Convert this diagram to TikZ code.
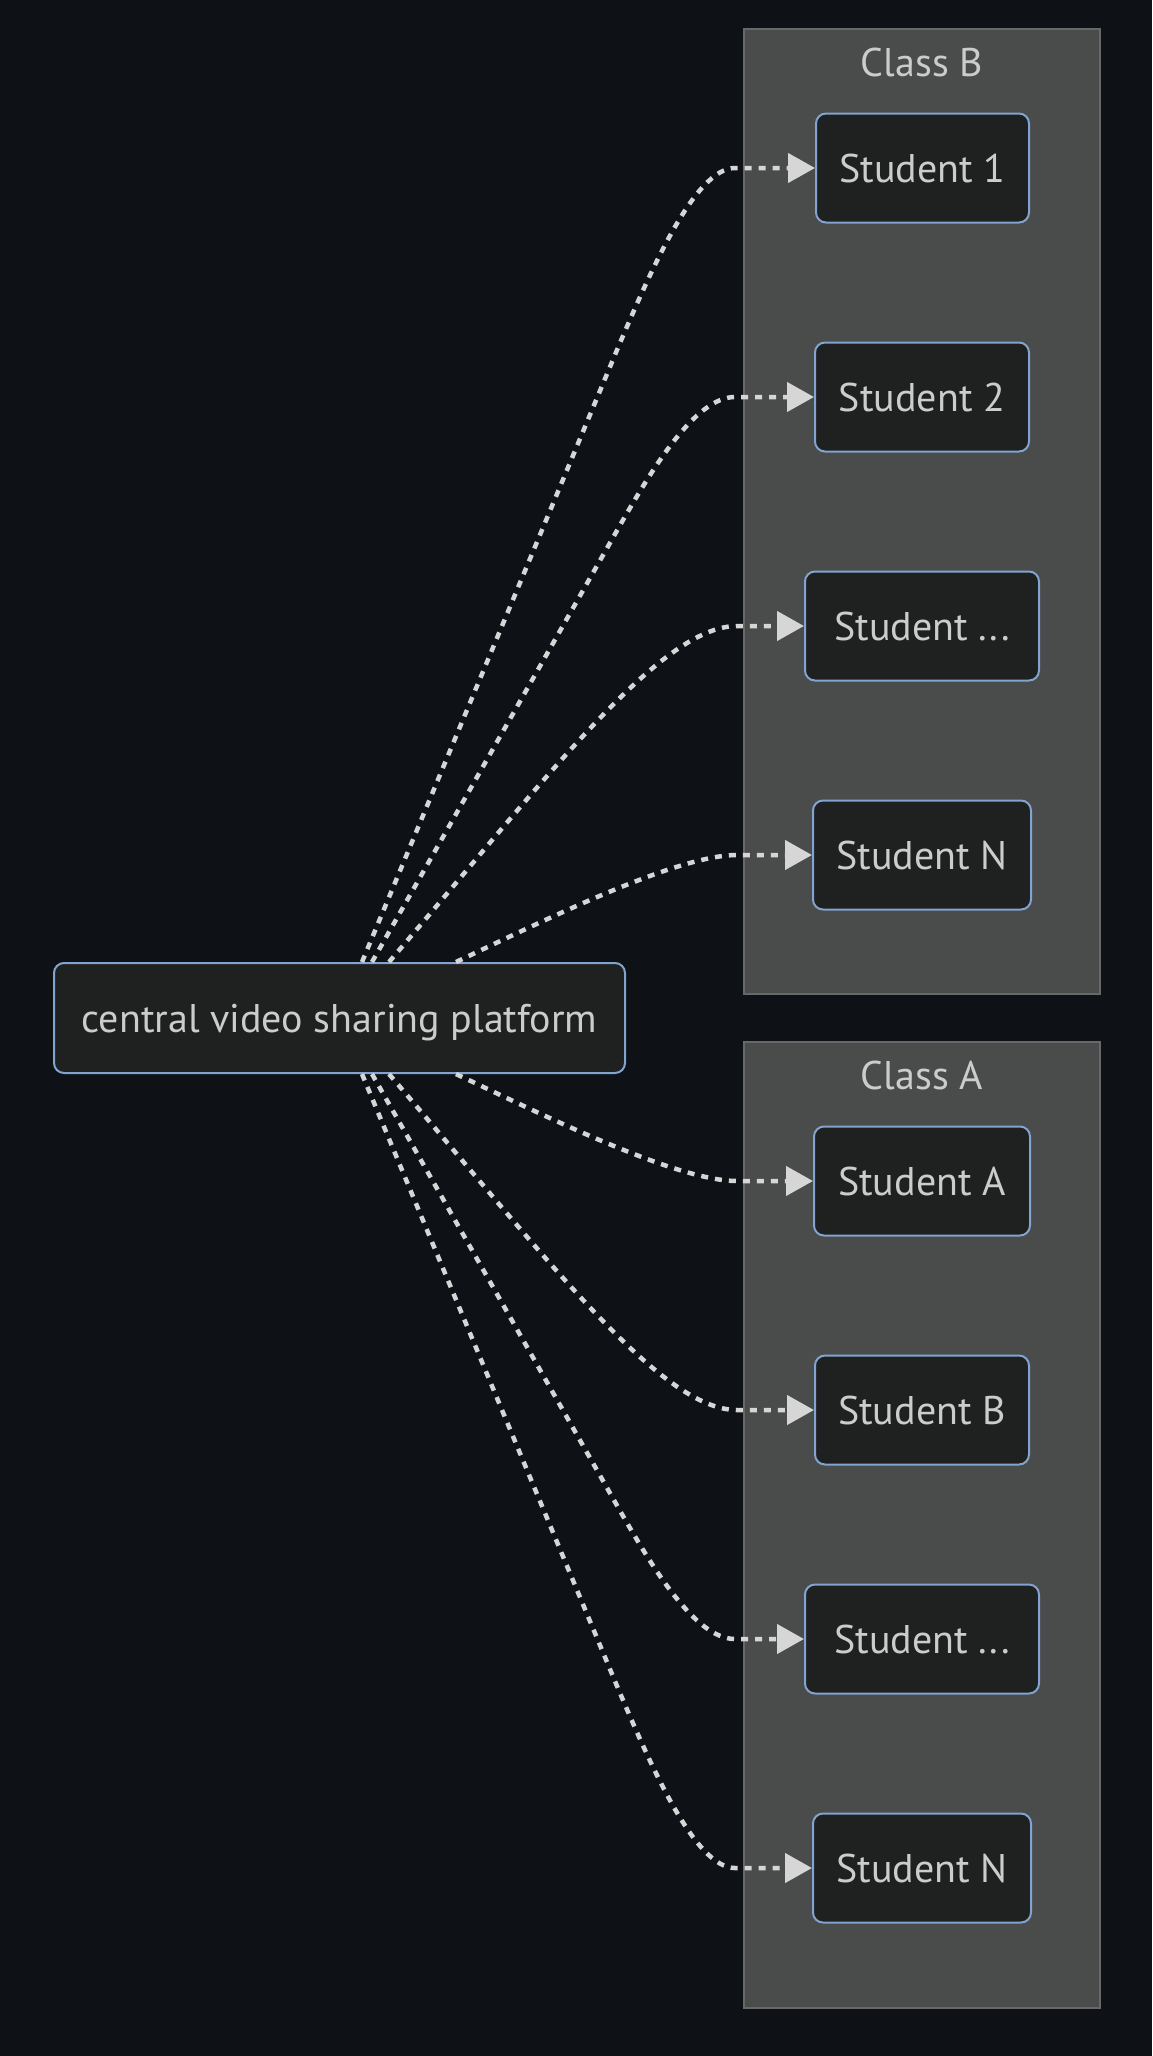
\documentclass[tikz,border=0pt]{standalone}
\usepackage{fontspec}
\setmainfont{PT Sans}
\usetikzlibrary{arrows.meta,calc}
\definecolor{bgc}{RGB}{14,17,22}
\definecolor{clfill}{RGB}{74,75,75}
\definecolor{cldraw}{RGB}{104,104,104}
\definecolor{ndfill}{RGB}{31,32,32}
\definecolor{nddraw}{RGB}{129,164,208}
\definecolor{txt}{RGB}{204,204,204}
\definecolor{edgec}{RGB}{214,214,214}
\tikzset{
  cluster/.style={draw=cldraw,fill=clfill,line width=2pt},
  cltitle/.style={text=txt,font=\fontsize{40}{48}\selectfont,inner sep=0pt},
  stud/.style={draw=nddraw,fill=ndfill,line width=2pt,rounded corners=10pt,
    minimum height=109pt,inner sep=0pt,text=txt,text height=28pt,text depth=0pt,
    font=\fontsize{40}{48}\selectfont},
  flow/.style={draw=edgec,line width=4.5pt,dash pattern=on 7pt off 7pt,
    -{Triangle[length=27pt,width=29pt,fill=edgec]}}
}
\begin{document}
\begin{tikzpicture}[x=1pt,y=-1pt]
\fill[bgc] (0,0) rectangle (1152,2056);
\useasboundingbox (0,0) rectangle (1152,2056);
% clusters
\draw[cluster] (744,29) rectangle (1100,994);
\draw[cluster] (744,1042) rectangle (1100,2008);
\node[cltitle] (tB) at (922,62) {Class B};
\node[cltitle] (tA) at (922,1075) {Class A};
% nodes
\node[stud,minimum width=571pt,minimum height=110pt] (cvs) at (339.5,1018) {central video sharing platform};
\node[stud,minimum width=213pt] (s1) at (922.5,168) {Student 1};
\node[stud,minimum width=214pt] (s2) at (922,397) {Student 2};
\node[stud,minimum width=234pt] (s3) at (922,626) {Student ...};
\node[stud,minimum width=218pt] (s4) at (922,855) {Student N};
\node[stud,minimum width=216pt] (sa) at (922,1181) {Student A};
\node[stud,minimum width=214pt] (sb) at (922,1410) {Student B};
\node[stud,minimum width=234pt] (sc) at (922,1639) {Student ...};
\node[stud,minimum width=218pt] (sn) at (922,1868) {Student N};
% start coordinates on central node
\coordinate (t1) at ($(cvs.north west)+(309,0)$);
\coordinate (t2) at ($(cvs.north west)+(319,0)$);
\coordinate (t3) at ($(cvs.north west)+(336,0)$);
\coordinate (t4) at ($(cvs.north west)+(403,0)$);
\coordinate (b1) at ($(cvs.south west)+(309,0)$);
\coordinate (b2) at ($(cvs.south west)+(319,0)$);
\coordinate (b3) at ($(cvs.south west)+(336,0)$);
\coordinate (b4) at ($(cvs.south west)+(403,0)$);
% top edges
\draw[flow] (t1) -- (617,350) .. controls (651,270) and (695,168) .. (735,168) -- (s1.west);
\draw[flow] (t2) -- (623,520) .. controls (652,470) and (695,397) .. (735,397) -- (s2.west);
\draw[flow] (t3) .. controls (545,780) and (660,626) .. (737,626) -- (s3.west);
\draw[flow] (t4) .. controls (547,919) and (677,855) .. (737,855) -- (s4.west);
% bottom edges (mirrored, y' = 2036 - y)
\draw[flow] (b4) .. controls (547,1117) and (677,1181) .. (737,1181) -- (sa.west);
\draw[flow] (b3) .. controls (545,1256) and (660,1410) .. (737,1410) -- (sb.west);
\draw[flow] (b2) -- (623,1516) .. controls (652,1566) and (695,1639) .. (735,1639) -- (sc.west);
\draw[flow] (b1) -- (617,1686) .. controls (651,1766) and (695,1868) .. (735,1868) -- (sn.west);
\end{tikzpicture}
\end{document}
